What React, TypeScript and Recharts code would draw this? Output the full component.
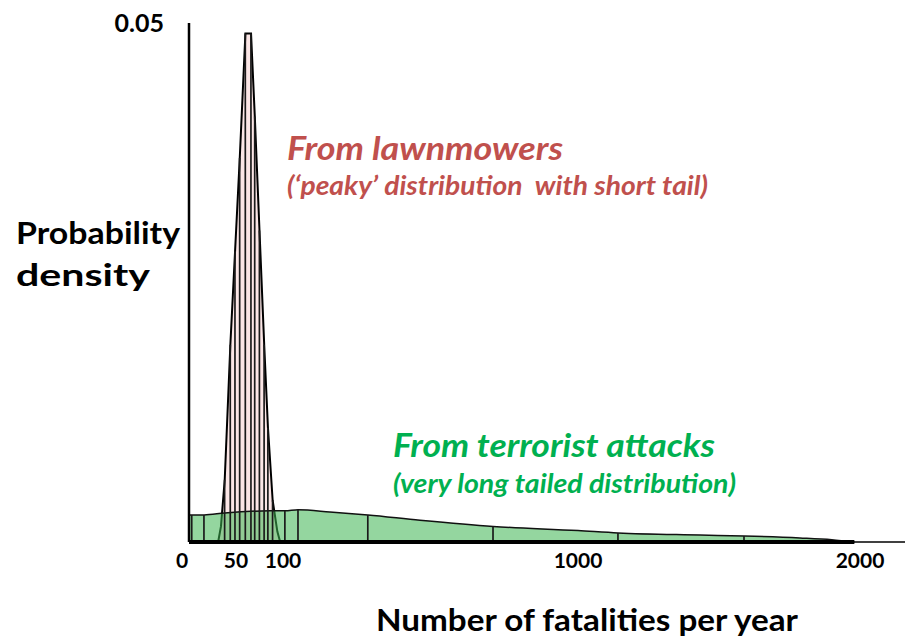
import { ComposedChart, Area, Bar, XAxis, YAxis, ReferenceLine } from "recharts";

// hand-drawn axis: 0-100 is stretched, then 100-1000 and 1000-2000 squeezed
const BREAK_F = [0, 100, 1000, 2000];
const BREAK_U = [0, 94, 389, 671];
const X_MAX_U = 724;

const X_TICKS = [0, 50, 100, 1000, 2000];
const Y_TICKS = [0.05];

// lawnmowers: narrow peak
const LAWN_F = [31, 34, 38, 44, 49, 54, 60, 63, 66, 70, 75, 80, 84, 89, 94, 97];
const LAWN_D = [0, 0.0015, 0.006, 0.019, 0.028, 0.037, 0.049, 0.049, 0.049, 0.041, 0.03, 0.019, 0.011, 0.004, 0.001, 0];
const LAWN_STRIPES = [38, 44, 49, 54, 60, 66, 70, 75, 80, 84, 89];

// terrorist attacks: long flat tail
const TERROR_F = [0, 3, 16, 38, 86, 106, 146, 243, 359, 518, 741, 1000, 1142, 1433, 1589, 1787, 1900, 1980];
const TERROR_D = [0.0026, 0.0026, 0.0026, 0.0028, 0.003, 0.003, 0.0031, 0.0029, 0.0026, 0.0021, 0.0015, 0.0011, 0.00087, 0.00067, 0.00058, 0.00039, 0.00022, 0];
const TERROR_EDGES = [3, 16, 106, 146, 359, 741, 1142, 1589];

const toAxis = (f: number) => {
  for (let i = 1; i < BREAK_F.length; i++) {
    if (f <= BREAK_F[i] || i === BREAK_F.length - 1) {
      const t = (f - BREAK_F[i - 1]) / (BREAK_F[i] - BREAK_F[i - 1]);
      return BREAK_U[i - 1] + t * (BREAK_U[i] - BREAK_U[i - 1]);
    }
  }
  return 0;
};

type Row = { f: number; u: number; lawn?: number; terror?: number; stripe?: number };

const rowsByF = new Map<number, Row>();
const row = (f: number) => {
  if (!rowsByF.has(f)) rowsByF.set(f, { f, u: toAxis(f) });
  return rowsByF.get(f)!;
};
LAWN_F.forEach((f, i) => {
  row(f).lawn = LAWN_D[i];
  if (LAWN_STRIPES.includes(f)) row(f).stripe = LAWN_D[i];
});
TERROR_F.forEach((f, i) => {
  row(f).terror = TERROR_D[i];
  if (TERROR_EDGES.includes(f)) row(f).stripe = TERROR_D[i];
});
const data = [...rowsByF.values()].sort((a, b) => a.f - b.f);

const FONT = "Lato, 'Open Sans', sans-serif";
const RED = "#c0504d";
const GREEN = "#00b050";

const XTick = (p: any) => {
  const f = X_TICKS.find((t) => Math.abs(toAxis(t) - p.payload.value) < 0.01) ?? 0;
  return (
    <text x={p.x + (f === 0 ? -7 : 0)} y={p.y + 26} textAnchor="middle" fontFamily={FONT} fontWeight={700} fontSize={21} fill="#000">
      {f}
    </text>
  );
};

const YTick = (p: any) => (
  <text x={p.x - 23} y={p.y + 9} textAnchor="end" fontFamily={FONT} fontWeight={700} fontSize={25} fill="#000">
    {p.payload.value}
  </text>
);

const T = (props: any) => (
  <text lengthAdjust="spacingAndGlyphs" style={{ whiteSpace: "pre" }} {...props} />
);

export default function App() {
  return (
    <ComposedChart width={905} height={632} data={data} margin={{ top: 15, right: 0, bottom: 68, left: 0 }}>
      <XAxis
        type="number"
        dataKey="u"
        height={30}
        domain={[0, X_MAX_U]}
        ticks={X_TICKS.map(toAxis)}
        tick={<XTick />}
        tickLine={false}
        tickSize={0}
        tickMargin={0}
        axisLine={{ stroke: "#000", strokeWidth: 1.5 }}
        allowDataOverflow
      />
      <YAxis
        type="number"
        domain={[0, 0.05]}
        ticks={Y_TICKS}
        width={181}
        tick={<YTick />}
        tickLine={false}
        tickSize={0}
        axisLine={{ stroke: "#000", strokeWidth: 2.5 }}
      />
      <Area
        dataKey="lawn"
        type="linear"
        connectNulls
        fill="#fbe6e6"
        fillOpacity={1}
        stroke="#000"
        strokeWidth={2}
        isAnimationActive={false}
      />
      <Area
        dataKey="terror"
        type="monotone"
        connectNulls
        fill="#3cb550"
        fillOpacity={0.55}
        stroke="#111"
        strokeWidth={1.5}
        isAnimationActive={false}
      />
      <Bar dataKey="stripe" barSize={2} fill="#1a1a1a" isAnimationActive={false} />
      <ReferenceLine
        segment={[
          { x: 0, y: 0 },
          { x: toAxis(1980), y: 0 },
        ]}
        stroke="#000"
        strokeWidth={4}
      />
      <g fontFamily={FONT} fontWeight={700}>
        <T x={8} y={236} fontSize={31} fill="#000" textLength={164}>Probability</T>
        <T x={8} y={278} fontSize={31} fill="#000" textLength={134}>density</T>
        <T x={368} y={623} fontSize={30} fill="#000" textLength={422}>Number of fatalities per year</T>
        <T x={279} y={152} fontSize={32} fill={RED} fontStyle="italic" textLength={276}>From lawnmowers</T>
        <T x={279} y={187} fontSize={26} fill={RED} fontStyle="italic" textLength={421}>(‘peaky’ distribution  with short tail)</T>
        <T x={385} y={449} fontSize={32} fill={GREEN} fontStyle="italic" textLength={322}>From terrorist attacks</T>
        <T x={385} y={485} fontSize={26} fill={GREEN} fontStyle="italic" textLength={343}>(very long tailed distribution)</T>
      </g>
    </ComposedChart>
  );
}
